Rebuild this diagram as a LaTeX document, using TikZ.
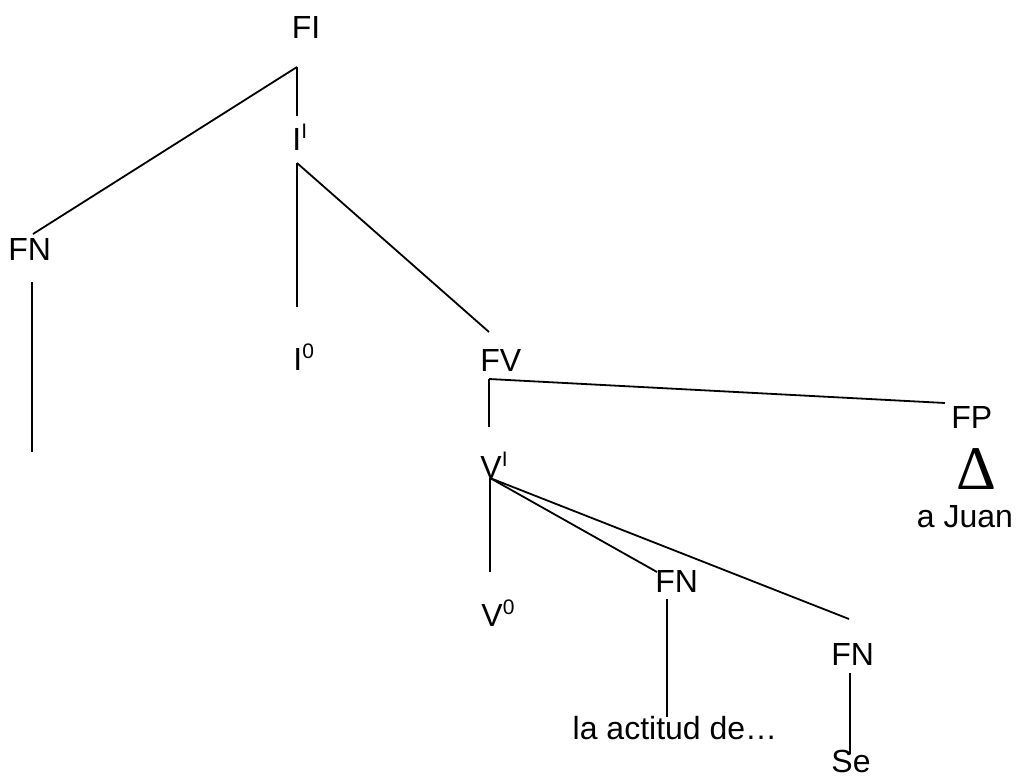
\documentclass[tikz,border=0pt]{standalone}
\usepackage{fontspec}
\setmainfont{Liberation Sans}
\newfontfamily\deltafont{Liberation Serif}
\newcommand{\sups}[1]{\raisebox{6pt}{\fontsize{10.5}{12}\selectfont #1}}

\begin{document}
\begin{tikzpicture}[
    x=0.5pt,
    y=-0.5pt,
    cat/.style={
        inner sep=0pt,
        anchor=base west,
        font=\fontsize{16}{19}\selectfont
    },
    word/.style={
        inner sep=0pt,
        anchor=base,
        font=\fontsize{16}{19}\selectfont
    },
    branch/.style={
        line width=0.9pt
    }
  ]
  \useasboundingbox (0,0) rectangle (1017,776);

  % We start by placing the categories
  \node [word] (fi) at (306,39) {FI};
  \node [cat] (ibar) at (292,150) {I\sups{I}};
  \node [cat] (fn) at (8,260) {FN};
  \node [cat] (i0) at (293,370) {I\sups{0}};
  \node [cat] (fv) at (480,371) {FV};
  \node [cat] (fp) at (951,428) {FP};
  \node [word, font=\deltafont\fontsize{31}{31}\selectfont] (delta) at (976,489) {Δ};
  \node [word] (juan) at (965,527) {a Juan};
  \node [cat] (vbar) at (480,478) {V\sups{I}};
  \node [cat] (v0) at (481,626) {V\sups{0}};
  \node [cat] (fnb) at (655,592) {FN};
  \node [cat] (fnc) at (831,665) {FN};
  \node [word] (actitud) at (675,739) {la actitud de…};
  \node [word] (se) at (851,772) {Se};

  % joints of the branches
  \coordinate (fi-j) at (297,67);
  \coordinate (fn-top) at (33,234);
  \coordinate (ibar-top) at (297,116);
  \coordinate (ibar-j) at (297,163);
  \coordinate (i0-top) at (297,307);
  \coordinate (fv-top) at (489,332);
  \coordinate (fn-j) at (32,282);
  \coordinate (fn-end) at (32,452);
  \coordinate (fv-j) at (489,379);
  \coordinate (fp-top) at (945,403);
  \coordinate (vbar-top) at (489,427);
  \coordinate (vbar-j) at (490,478);
  \coordinate (v0-top) at (490,572);
  \coordinate (fnb-top) at (657,572);
  \coordinate (fnc-top) at (849,619);
  \coordinate (fnb-j) at (667,599);
  \coordinate (actitud-top) at (667,717);
  \coordinate (fnc-j) at (850,673);
  \coordinate (se-top) at (850,754);

  % and now the branches
  \draw [branch] (fi-j) -- (fn-top);
  \draw [branch] (fi-j) -- (ibar-top);
  \draw [branch] (ibar-j) -- (i0-top);
  \draw [branch] (ibar-j) -- (fv-top);
  \draw [branch] (fn-j) -- (fn-end);
  \draw [branch] (fv-j) -- (fp-top);
  \draw [branch] (fv-j) -- (vbar-top);
  \draw [branch] (vbar-j) -- (v0-top);
  \draw [branch] (vbar-j) -- (fnb-top);
  \draw [branch] (vbar-j) -- (fnc-top);
  \draw [branch] (fnb-j) -- (actitud-top);
  \draw [branch] (fnc-j) -- (se-top);

\end{tikzpicture}
\end{document}
